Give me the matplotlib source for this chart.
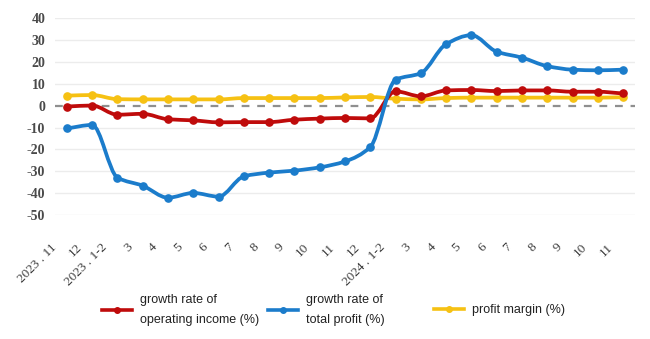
import matplotlib
matplotlib.use("Agg")
import matplotlib.pyplot as plt
import matplotlib.transforms as mtransforms
from matplotlib.path import Path
from matplotlib.patches import PathPatch
from matplotlib.lines import Line2D
import numpy as np

plt.rcParams["axes.unicode_minus"] = False

# Month labels along the x axis
months = ["2023 . 11", "12", "2023 . 1-2", "3", "4", "5", "6", "7", "8", "9",
          "10", "11", "12", "2024 . 1-2", "3", "4", "5", "6", "7", "8", "9",
          "10", "11"]

# Series values (%)
operating_income_growth = [-0.4, 0.1, -4.1, -3.7, -6.2, -6.7, -7.6, -7.5, -7.5,
                           -6.4, -5.9, -5.6, -5.8, 6.6, 4.3, 7.0, 7.2, 6.7,
                           7.0, 7.0, 6.4, 6.4, 5.6]
total_profit_growth = [-10.4, -8.8, -32.9, -36.6, -42.1, -39.9, -41.6, -32.3,
                       -30.6, -29.7, -28.2, -25.5, -18.9, 11.9, 14.9, 28.2,
                       32.3, 24.7, 22.0, 18.1, 16.5, 16.2, 16.5]
profit_margin = [4.6, 4.9, 3.0, 2.9, 2.9, 2.9, 2.9, 3.5, 3.5, 3.5, 3.5, 3.8,
                 4.0, 3.2, 2.9, 3.5, 3.7, 3.7, 3.7, 3.7, 3.7, 3.7, 3.9]

labels = ["growth rate of\noperating income (%)",
          "growth rate of\ntotal profit (%)",
          "profit margin (%)"]
colors = ["#BF0B0B", "#1B7CCB", "#F6C113"]

fig = plt.figure(figsize=(6.5, 3.39), dpi=100)
ax = fig.add_axes([55 / 650, 1 - 215 / 339, 580 / 650, (215 - 18.3) / 339])


def smooth_path(xs, ys):
    """Monotone cubic (Fritsch-Carlson) curve through the points as Bezier segments."""
    xs = np.asarray(xs, float)
    ys = np.asarray(ys, float)
    n = len(xs)
    h = np.diff(xs)
    d = np.diff(ys) / h
    m = np.zeros(n)
    m[0], m[-1] = d[0], d[-1]
    for i in range(1, n - 1):
        if d[i - 1] * d[i] <= 0:
            m[i] = 0.0
        else:
            w1 = 2 * h[i] + h[i - 1]
            w2 = h[i] + 2 * h[i - 1]
            m[i] = (w1 + w2) / (w1 / d[i - 1] + w2 / d[i])
    verts = [(xs[0], ys[0])]
    codes = [Path.MOVETO]
    for i in range(n - 1):
        dx = h[i] / 3
        verts += [(xs[i] + dx, ys[i] + m[i] * dx),
                  (xs[i + 1] - dx, ys[i + 1] - m[i + 1] * dx),
                  (xs[i + 1], ys[i + 1])]
        codes += [Path.CURVE4] * 3
    return Path(np.array(verts), codes)


x = np.arange(len(months))

# light horizontal grid and dashed zero line
for yv in range(-50, 41, 10):
    if yv == 0:
        continue
    ax.axhline(yv, color="#ececec", lw=1.0, zorder=0)
ax.axhline(0, color="#8f8f8f", lw=1.6, ls=(0, (3.5, 3.5)), zorder=1)

for vals, col, z in [(profit_margin, colors[2], 3),
                     (operating_income_growth, colors[0], 4),
                     (total_profit_growth, colors[1], 5)]:
    patch = PathPatch(smooth_path(x, vals), facecolor="none", edgecolor=col,
                      lw=2.7, capstyle="round", joinstyle="round", zorder=z)
    ax.add_patch(patch)
    ax.plot(x, vals, "o", color=col, ms=5.2, zorder=z)

handles = [Line2D([], [], color=col, lw=2.6, marker="o", ms=4) for col in colors]

ax.set_xlim(-0.47, 22.47)
ax.set_ylim(-50, 40)
ax.set_yticks(range(-50, 41, 10))
ax.set_xticks(x)
ax.set_xticklabels(months)
for s in ax.spines.values():
    s.set_visible(False)
ax.tick_params(axis="both", length=0)
ax.tick_params(axis="y", pad=7)
ax.tick_params(axis="x", pad=19)

for t in ax.get_yticklabels():
    t.set_fontfamily("Liberation Serif")
    t.set_fontsize(10)
    t.set_fontweight("bold")
    t.set_color("#4a4a4a")

shift = mtransforms.ScaledTranslation(-8 / 100, 0, fig.dpi_scale_trans)
for t in ax.get_xticklabels():
    t.set_fontfamily("Liberation Serif")
    t.set_fontsize(9.5)
    t.set_color("#3a3a3a")
    t.set_rotation(45)
    t.set_ha("right")
    t.set_va("top")
    t.set_transform(t.get_transform() + shift)

# legend: one entry per column, placed below the plot
legend_pos = [(102 / 650, 1 - 310 / 339), (268 / 650, 1 - 310 / 339),
              (434 / 650, 1 - 310 / 339)]
for h, lab, pos in zip(handles, labels, legend_pos):
    leg = fig.legend([h], [lab], loc="center left", bbox_to_anchor=pos,
                     frameon=False, borderpad=0, borderaxespad=0,
                     handlelength=2.4, handletextpad=0.6,
                     prop={"family": "Liberation Sans", "size": 9})
    for txt in leg.get_texts():
        txt.set_linespacing(2.0)
        txt.set_color("#222222")

fig.savefig("out.png", dpi=100)
